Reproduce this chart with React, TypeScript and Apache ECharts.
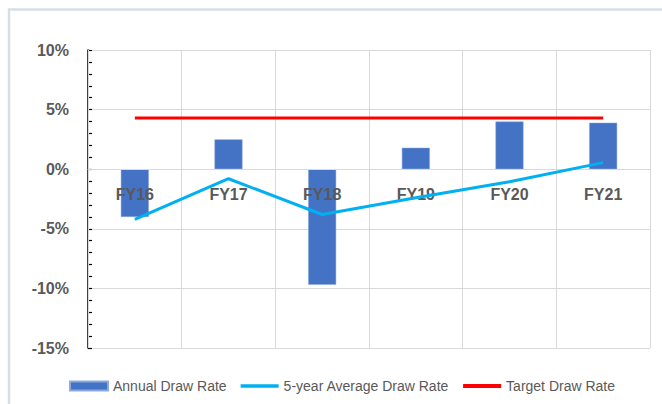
import React, { useEffect, useRef } from "react";
import * as echarts from "echarts";

const categories = ["FY16", "FY17", "FY18", "FY19", "FY20", "FY21"];
const annualDrawRate = [-4.0, 2.5, -9.7, 1.8, 4.0, 3.9];
const fiveYearAverage = [-4.2, -0.8, -3.8, -2.4, -1.05, 0.55];
const targetDrawRate = [4.3, 4.3, 4.3, 4.3, 4.3, 4.3];
const seriesNames = ["Annual Draw Rate", "5-year Average Draw Rate", "Target Draw Rate"];

export default function App() {
  const ref = useRef<HTMLDivElement>(null);
  useEffect(() => {
    if (!ref.current) return;
    const chart = echarts.init(ref.current, null, { renderer: "svg" });
    const font = "Liberation Sans, Arial, sans-serif";
    chart.setOption({
      animation: false,
      backgroundColor: "#ffffff",
      graphic: [
        {
          type: "rect",
          shape: { x: 9, y: 9.5, width: 700, height: 500 },
          style: { fill: "none", stroke: "#d7dee6", lineWidth: 2.5 },
          z: -10,
          silent: true,
        },
      ],
      grid: { left: 88, right: 12, top: 50, bottom: 56 },
      legend: {
        left: 64,
        top: 374,
        itemWidth: 38,
        itemHeight: 9,
        itemGap: 14,
        symbolKeepAspect: true,
        textStyle: { color: "#595959", fontSize: 14, fontFamily: font },
        data: [
          { name: seriesNames[0], icon: "rect" },
          { name: seriesNames[1], icon: "path://M0,0H38V3.5H0Z" },
          { name: seriesNames[2], icon: "path://M0,0H38V4H0Z" },
        ],
      },
      xAxis: {
        type: "category",
        data: categories,
        position: "bottom",
        offset: -178.8,
        z: 2.5,
        axisLine: { show: true, onZero: false, lineStyle: { color: "#d9d9d9", width: 1 } },
        axisTick: { show: false },
        axisLabel: {
          margin: 17,
          color: "#595959",
          fontSize: 16,
          fontWeight: "bold",
          fontFamily: font,
        },
        splitLine: { show: true, lineStyle: { color: "#d9d9d9", width: 1 } },
      },
      yAxis: [
        {
          type: "value",
          min: -15,
          max: 10,
          interval: 5,
          axisLine: { show: true, onZero: false, lineStyle: { color: "#000000", width: 1.5 } },
          axisTick: { show: false },
          axisLabel: {
            margin: 19,
            formatter: "{value}%",
            color: "#595959",
            fontSize: 16,
            fontWeight: "bold",
            fontFamily: font,
          },
          splitLine: { show: true, lineStyle: { color: "#d9d9d9", width: 1 } },
        },
        {
          type: "value",
          position: "left",
          offset: -4,
          min: -15,
          max: 10,
          interval: 1,
          axisLine: { show: false, onZero: false },
          axisTick: { show: true, inside: false, length: 4, lineStyle: { color: "#000000", width: 1.2 } },
          axisLabel: { show: false },
          splitLine: { show: false },
        },
      ],
      series: [
        {
          name: seriesNames[0],
          type: "bar",
          data: annualDrawRate,
          barWidth: 28,
          z: 1,
          itemStyle: { color: "#4472c4", borderColor: "#8eaadb", borderWidth: 0.5 },
        },
        {
          name: seriesNames[1],
          type: "line",
          data: fiveYearAverage,
          symbol: "none",
          z: 3,
          lineStyle: { color: "#00b0f0", width: 3 },
          itemStyle: { color: "#00b0f0" },
        },
        {
          name: seriesNames[2],
          type: "line",
          data: targetDrawRate,
          symbol: "none",
          z: 3,
          lineStyle: { color: "#ff0000", width: 3 },
          itemStyle: { color: "#ff0000" },
        },
      ],
    });
    return () => chart.dispose();
  }, []);
  return (
    <div
      ref={ref}
      style={{ position: "fixed", left: 0, top: 0, width: 662, height: 404, background: "#fff" }}
    />
  );
}
